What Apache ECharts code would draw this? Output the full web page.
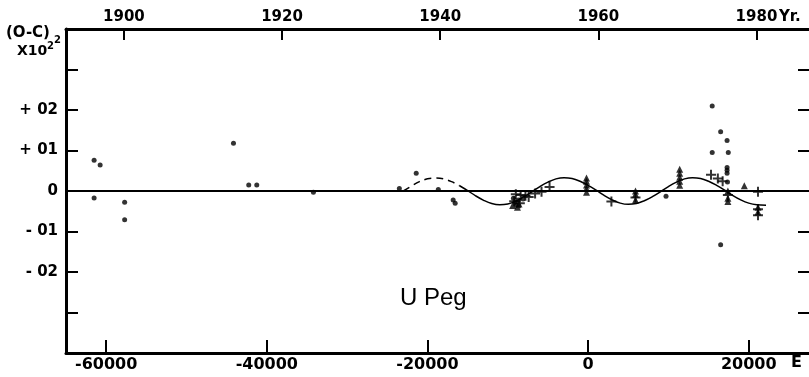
<!DOCTYPE html>
<html>
<head>
<meta charset="utf-8">
<script src="https://cdn.jsdelivr.net/npm/echarts@6/dist/echarts.min.js"></script>
<style>
html,body{margin:0;padding:0;background:#fff;}
#chart{width:809px;height:377px;}
</style>
</head>
<body>
<div id="chart"></div>
<script>
// ---- data (E = epoch, O-C in days) ----
const dotPoints = [
  [-61500, 0.0076], [-60750, 0.0064], [-61500, -0.0017], [-57700, -0.0028], [-57700, -0.0071],
  [-44150, 0.0118], [-42250, 0.0015], [-41250, 0.0015], [-34200, -0.0003],
  [-23500, 0.0006], [-21400, 0.0044], [-18650, 0.0004], [-16800, -0.0022], [-16550, -0.0030],
  [-9300, -0.0018], [-8700, -0.0022], [-8100, -0.0020], [-8900, -0.0035], [-9100, -0.0028],
  [9700, -0.0013], [15450, 0.0210], [16500, 0.0146], [17300, 0.0125], [15450, 0.0095],
  [17450, 0.0095], [17300, 0.0058], [17300, 0.0051], [17300, 0.0044], [17350, 0.0022],
  [16500, -0.0133]
];
const plusPoints = [
  [-9000, -0.0008], [-8400, -0.0010], [-7800, -0.0012], [-9200, -0.0025], [-8500, -0.0030],
  [-7400, -0.0015], [-6600, -0.0006], [-5800, -0.0002], [-4800, 0.0010], [2900, -0.0026],
  [5900, -0.0016], [15300, 0.0040], [16150, 0.0031], [16750, 0.0024], [17400, -0.0010],
  [21150, -0.0002], [21150, -0.0045], [21150, -0.0060]
];
const trianglePoints = [
  [-8800, -0.0040], [-8600, -0.0032], [-9400, -0.0036],
  [-200, 0.0032], [-200, 0.0024], [-200, 0.0015], [-200, 0.0006], [-200, -0.0003],
  [5900, 0.0000], [5900, -0.0008], [5900, -0.0022],
  [11400, 0.0054], [11400, 0.0044], [11400, 0.0034], [11400, 0.0024], [11400, 0.0014],
  [19450, 0.0013], [17400, 0.0000], [17400, -0.0018], [17400, -0.0026],
  [21150, -0.0040], [21150, -0.0052]
];
const fitDashed = [
  [-23000, 0.0000], [-22000, 0.0012], [-21000, 0.0023], [-20000, 0.0030], [-19000, 0.0032],
  [-18000, 0.0030], [-17000, 0.0023], [-16000, 0.0013]
];
const fitSolid = [
  [-16000, 0.0013], [-15000, 0.0001], [-14000, -0.0012], [-13000, -0.0023], [-12000, -0.0031],
  [-11000, -0.0034], [-10000, -0.0032], [-9000, -0.0025], [-8000, -0.0014], [-7000, -0.0002],
  [-6000, 0.0011], [-5000, 0.0022], [-4000, 0.0030], [-3000, 0.0033], [-2000, 0.0031],
  [-1000, 0.0024], [0, 0.0014], [1000, 0.0002], [2000, -0.0011], [3000, -0.0022],
  [4000, -0.0030], [5000, -0.0033], [6000, -0.0031], [7000, -0.0024], [8000, -0.0014],
  [9000, -0.0002], [10000, 0.0011], [11000, 0.0022], [12000, 0.0030], [13000, 0.0033],
  [14000, 0.0031], [15000, 0.0024], [16000, 0.0014], [17000, 0.0002], [18000, -0.0011],
  [19000, -0.0022], [20000, -0.0030], [21000, -0.0034], [22150, -0.0035]
];
const zeroLine = [[-65000, 0], [27500, 0]];
const epochTicks = [-60000, -40000, -20000, 0, 20000];
const yearTicks = [1900, 1920, 1940, 1960, 1980];
const ocTicks = [-0.02, -0.01, 0, 0.01, 0.02];
const ocLabels = ['- 02', '- 01', '0', '+ 01', '+ 02'];

// ---- chart ----
const FONT = 'DejaVu Sans';
const chart = echarts.init(document.getElementById('chart'), null, {renderer: 'canvas'});
const axisLineStyle = {color: '#000', width: 3};
const tickStyle = {color: '#000', width: 2};

chart.setOption({
  animation: false,
  backgroundColor: '#fff',
  grid: {left: 66, top: 29, width: 745, height: 324, containLabel: false},
  xAxis: [
    {
      type: 'value', position: 'bottom', min: -65000, max: 27500,
      axisLine: {show: true, onZero: false, lineStyle: axisLineStyle},
      axisTick: {show: true, inside: true, length: 13, lineStyle: tickStyle, customValues: epochTicks},
      axisLabel: {
        customValues: epochTicks, margin: 4, color: '#000',
        fontFamily: FONT, fontWeight: 'bold', fontSize: 16,
        formatter: v => (v < 0 ? '-' + Math.abs(v) : String(v))
      },
      splitLine: {show: false}
    },
    {
      type: 'value', position: 'top', min: 1892.68, max: 1986.64,
      axisLine: {show: true, onZero: false, lineStyle: axisLineStyle},
      axisTick: {show: true, inside: true, length: 11, lineStyle: tickStyle, customValues: yearTicks},
      axisLabel: {
        customValues: yearTicks, margin: 4, color: '#000',
        fontFamily: FONT, fontWeight: 'bold', fontSize: 15,
        formatter: v => String(Math.round(v))
      },
      splitLine: {show: false}
    }
  ],
  yAxis: [
    {
      type: 'value', position: 'left', min: -0.04, max: 0.04, interval: 0.01,
      axisLine: {show: true, onZero: false, lineStyle: axisLineStyle},
      axisTick: {show: true, inside: true, length: 12, lineStyle: tickStyle},
      axisLabel: {
        customValues: ocTicks, margin: 8, color: '#000',
        fontFamily: FONT, fontWeight: 'bold', fontSize: 15,
        formatter: v => {
          const i = ocTicks.findIndex(t => Math.abs(t - v) < 1e-9);
          return i >= 0 ? ocLabels[i] : '';
        }
      },
      splitLine: {show: false}
    },
    {
      type: 'value', position: 'right', min: -0.04, max: 0.04, interval: 0.01,
      axisLine: {show: false, onZero: false},
      axisTick: {show: true, inside: true, length: 11, lineStyle: tickStyle},
      axisLabel: {show: false},
      splitLine: {show: false}
    }
  ],
  graphic: [
    {type: 'text', left: 6, top: 26, style: {text: '(O-C)', font: 'bold 15px "DejaVu Sans"', fill: '#000'}},
    {type: 'text', left: 54, top: 35, style: {text: '2', font: 'bold 10px "DejaVu Sans"', fill: '#000'}},
    {type: 'text', left: 17, top: 44, style: {text: 'X10', font: 'bold 14px "DejaVu Sans"', fill: '#000'}},
    {type: 'text', left: 47, top: 41, style: {text: '2', font: 'bold 10px "DejaVu Sans"', fill: '#000'}},
    {type: 'text', left: 779, top: 10, style: {text: 'Yr.', font: 'bold 15px "DejaVu Sans"', fill: '#000'}},
    {type: 'text', left: 791, top: 355, style: {text: 'E', font: 'bold 16px "DejaVu Sans"', fill: '#000'}},
    {type: 'text', left: 400, top: 286, style: {text: 'U Peg', font: '24px "Liberation Sans"', fill: '#000'}}
  ],
  series: [
    {
      name: 'zero', type: 'line', data: zeroLine, symbol: 'none', silent: true,
      lineStyle: {color: '#000', width: 2}
    },
    {
      name: 'fitDashed', type: 'line', data: fitDashed, symbol: 'none', smooth: 0.4, silent: true,
      lineStyle: {color: '#000', width: 1.5, type: [7, 5]}
    },
    {
      name: 'fitSolid', type: 'line', data: fitSolid, symbol: 'none', smooth: 0.4, silent: true,
      lineStyle: {color: '#000', width: 1.5}
    },
    {
      name: 'dots', type: 'scatter', data: dotPoints, symbol: 'circle', symbolSize: 5,
      itemStyle: {color: '#000'}
    },
    {
      name: 'plus', type: 'scatter', data: plusPoints,
      symbol: 'path://M4,0H6V4H10V6H6V10H4V6H0V4H4Z', symbolSize: 10,
      itemStyle: {color: '#000'}
    },
    {
      name: 'triangles', type: 'scatter', data: trianglePoints, symbol: 'triangle', symbolSize: 7,
      itemStyle: {color: '#000'}
    }
  ]
});
</script>
</body>
</html>
